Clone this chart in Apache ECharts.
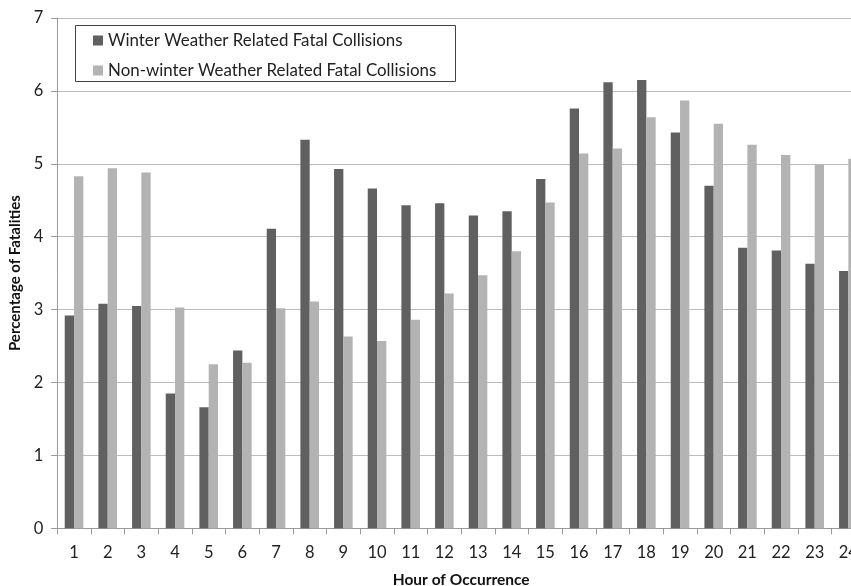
<!DOCTYPE html>
<html>
<head>
<meta charset="utf-8">
<script src="https://cdn.jsdelivr.net/npm/echarts@6/dist/echarts.min.js"></script>
<style>html,body{margin:0;padding:0;background:#fff}#c{width:851px;height:586px}</style>
</head>
<body>
<div id="c"></div>
<script>
const hours = ['1','2','3','4','5','6','7','8','9','10','11','12','13','14','15','16','17','18','19','20','21','22','23','24'];
const winterName = 'Winter Weather Related Fatal Collisions';
const nonWinterName = 'Non-winter Weather Related Fatal Collisions';
const winter = [2.92,3.08,3.05,1.85,1.66,2.44,4.11,5.33,4.93,4.66,4.43,4.46,4.29,4.35,4.79,5.76,6.12,6.15,5.43,4.70,3.85,3.81,3.63,3.53];
const nonWinter = [4.83,4.94,4.88,3.03,2.25,2.27,3.02,3.11,2.63,2.57,2.86,3.22,3.47,3.80,4.47,5.14,5.21,5.64,5.87,5.55,5.26,5.12,4.99,5.07];
const yTicks = {min:0, max:7, interval:1};

const font = 'Lato, "Open Sans", sans-serif';
const chart = echarts.init(document.getElementById('c'), null, {renderer:'canvas'});
chart.setOption({
  backgroundColor:'#fff',
  animation:false,
  grid:{left:57.2, width:808, top:18, height:510.3, containLabel:false, outerBoundsMode:'none'},
  graphic:[{type:'rect', left:73, top:23, shape:{width:380, height:56}, style:{fill:'none', stroke:'#444', lineWidth:1}, z:10}],
  legend:{
    orient:'vertical', left:93, top:31.5, padding:0, itemWidth:10, itemHeight:10, itemGap:12,
    icon:'rect',
    textStyle:{fontFamily:font, fontSize:16.9, color:'#222', lineHeight:18},
    data:[winterName, nonWinterName]
  },
  xAxis:{
    type:'category', data:hours,
    axisLine:{lineStyle:{color:'#9a9a9a'}},
    axisTick:{show:true, length:6, lineStyle:{color:'#9a9a9a'}},
    axisLabel:{fontFamily:font, fontSize:16.5, color:'#222', margin:16},
    name:'Hour of Occurrence', nameLocation:'middle', nameGap:44,
    nameTextStyle:{fontFamily:font, fontSize:15.5, fontWeight:'bold', color:'#111'}
  },
  yAxis:{
    type:'value', min:yTicks.min, max:yTicks.max, interval:yTicks.interval,
    axisLine:{show:true, lineStyle:{color:'#9a9a9a'}},
    axisTick:{show:true, length:6, lineStyle:{color:'#9a9a9a'}},
    axisLabel:{fontFamily:font, fontSize:16.5, color:'#222', margin:14},
    splitLine:{lineStyle:{color:'#bcbcbc', width:1}},
    name:'Percentage of Fatalities', nameLocation:'middle', nameGap:32,
    nameTextStyle:{fontFamily:font, fontSize:15, fontWeight:'bold', color:'#111'}
  },
  series:[
    {name:winterName, type:'bar', data:winter, barWidth:9.3, barGap:'0%', itemStyle:{color:'#606060'}},
    {name:nonWinterName, type:'bar', data:nonWinter, barWidth:9.3, barGap:'0%', itemStyle:{color:'#b3b3b3'}}
  ]
});
</script>
</body>
</html>
